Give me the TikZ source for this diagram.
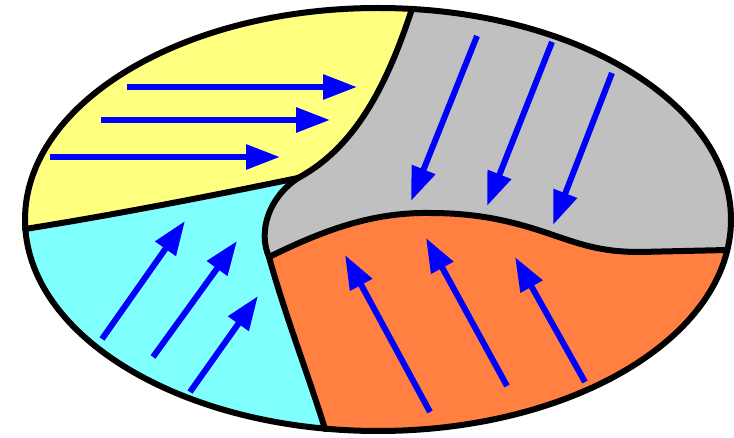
\documentclass[tikz,border=0pt]{standalone}
\usetikzlibrary{arrows.meta}
\definecolor{regyellow}{HTML}{FFFF80}
\definecolor{regcyan}{HTML}{80FFFF}
\definecolor{reggray}{HTML}{C0C0C0}
\definecolor{regorange}{HTML}{FF8040}
\definecolor{arrblue}{HTML}{0000FF}
\tikzset{
  border/.style={line width=6pt, line join=round, line cap=round, black},
  flowarrow/.style={line width=6pt, arrblue, -{Triangle[length=34pt,width=24pt]}},
}
\begin{document}
\begin{tikzpicture}[x=1pt,y=-1pt]
\useasboundingbox (0,0) rectangle (734,438);
% key points
\coordinate (C) at (378,219.5);
\coordinate (L) at (25,229);
\coordinate (J1) at (298,178);
\coordinate (T) at (412,9);
\coordinate (J2) at (269,257);
\coordinate (B) at (325,429);
\coordinate (R) at (727,250);
% regions
\begin{scope}
  \clip (C) ellipse [x radius=353pt, y radius=211.5pt];
  \fill[reggray] (0,0) rectangle (734,438);
  \fill[regyellow] (-20,231) -- (L) .. controls (120,214) and (230,192) .. (J1)
     .. controls (360,145) and (390,75) .. (T) -- (414,-20) -- (-20,-20) -- cycle;
  \fill[regcyan] (-20,231) -- (L) .. controls (120,214) and (230,192) .. (J1)
     .. controls (268,198) and (258,232) .. (J2)
     .. controls (285,315) and (310,380) .. (B) -- (323,460) -- (-20,460) -- cycle;
  \fill[regorange] (J2) .. controls (320,232) and (370,212) .. (430,213)
     .. controls (480,213) and (515,222) .. (550,234)
     .. controls (580,244) and (600,252) .. (640,252) -- (R) -- (760,250) -- (760,460)
     -- (327,460) -- (B) .. controls (310,380) and (285,315) .. (J2) -- cycle;
\end{scope}
% boundaries
\draw[border] (L) .. controls (120,214) and (230,192) .. (J1);
\draw[border] (J1) .. controls (360,145) and (390,75) .. (T);
\draw[border] (J1) .. controls (268,198) and (258,232) .. (J2);
\draw[border] (J2) .. controls (285,315) and (310,380) .. (B);
\draw[border] (J2) .. controls (320,232) and (370,212) .. (430,213)
     .. controls (480,213) and (515,222) .. (550,234)
     .. controls (580,244) and (600,252) .. (640,252) -- (R);
\draw[border] (C) ellipse [x radius=353pt, y radius=211.5pt];
% arrows: yellow region
\coordinate (ya1) at (127,87);  \coordinate (yb1) at (357,87);
\coordinate (ya2) at (101,120); \coordinate (yb2) at (330,120);
\coordinate (ya3) at (50,157);  \coordinate (yb3) at (280,157);
\draw[flowarrow] (ya1) -- (yb1);
\draw[flowarrow] (ya2) -- (yb2);
\draw[flowarrow] (ya3) -- (yb3);
% arrows: gray region
\coordinate (ga1) at (477,36);  \coordinate (gb1) at (411,201);
\coordinate (ga2) at (552,42);  \coordinate (gb2) at (487,206);
\coordinate (ga3) at (612,73);  \coordinate (gb3) at (553,225);
\draw[flowarrow] (ga1) -- (gb1);
\draw[flowarrow] (ga2) -- (gb2);
\draw[flowarrow] (ga3) -- (gb3);
% arrows: cyan region
\coordinate (ca1) at (102,339); \coordinate (cb1) at (185,221);
\coordinate (ca2) at (153,357); \coordinate (cb2) at (237,241);
\coordinate (ca3) at (190,392); \coordinate (cb3) at (258,296);
\draw[flowarrow] (ca1) -- (cb1);
\draw[flowarrow] (ca2) -- (cb2);
\draw[flowarrow] (ca3) -- (cb3);
% arrows: orange region
\coordinate (oa1) at (430,412); \coordinate (ob1) at (345,255);
\coordinate (oa2) at (507,386); \coordinate (ob2) at (426,238);
\coordinate (oa3) at (585,382); \coordinate (ob3) at (515,257);
\draw[flowarrow] (oa1) -- (ob1);
\draw[flowarrow] (oa2) -- (ob2);
\draw[flowarrow] (oa3) -- (ob3);
\end{tikzpicture}
\end{document}
